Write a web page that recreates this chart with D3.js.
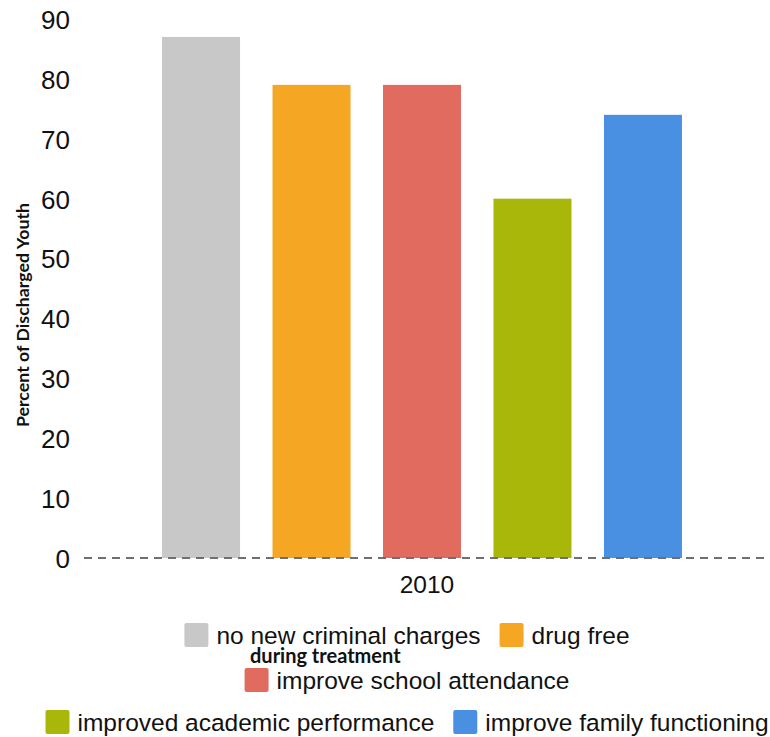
<!DOCTYPE html>
<html>
<head>
<meta charset="utf-8">
<script src="https://cdn.jsdelivr.net/npm/d3@7"></script>
<style>
  html, body { margin: 0; padding: 0; background: #fff; }
  svg { display: block; }
</style>
</head>
<body>
<svg id="chart" width="770" height="737"></svg>
<script>
// ---- data ----
const categories = ["no new criminal charges", "drug free", "improve school attendance", "improved academic performance", "improve family functioning"];
const values = [87, 79, 79, 60, 74];
const colors = ["#c8c8c8", "#f5a623", "#e06b5e", "#a9b70b", "#4a90e2"];
const groupLabel = "2010";
const yTicks = [0, 10, 20, 30, 40, 50, 60, 70, 80, 90];
const yTitle = "Percent of Discharged Youth";
const legendNote = "during treatment";
const legendRows = [[0, 1], [2], [3, 4]];

// ---- layout ----
const svg = d3.select("#chart");
const x = d3.scaleBand().domain(categories).range([151, 693]).paddingInner(0.294).paddingOuter(0.1);
const y = d3.scaleLinear().domain([0, 90]).range([558, 19]);

// bars
svg.append("g").selectAll("rect").data(categories).join("rect")
  .attr("x", d => x(d))
  .attr("y", (d, i) => y(values[i]))
  .attr("width", x.bandwidth())
  .attr("height", (d, i) => y(0) - y(values[i]))
  .attr("fill", (d, i) => colors[i]);

// baseline dashed
svg.append("line")
  .attr("x1", 82).attr("x2", 770)
  .attr("y1", y(0)).attr("y2", y(0))
  .attr("stroke", "#6f6f6f").attr("stroke-width", 2)
  .attr("stroke-dasharray", "8,6").attr("stroke-dashoffset", 12);

// y axis labels
const yAxis = d3.axisLeft(y).tickValues(yTicks).tickSize(0).tickPadding(0);
const gy = svg.append("g").attr("transform", "translate(70,0)").call(yAxis);
gy.select(".domain").remove();
gy.selectAll("text")
  .attr("font-family", "'Liberation Sans', Arial, sans-serif")
  .attr("font-size", 26).attr("fill", "#111").attr("dy", "0.36em");

// x group label
svg.append("text")
  .attr("x", 427).attr("y", 593)
  .attr("text-anchor", "middle")
  .attr("font-family", "'Liberation Sans', Arial, sans-serif")
  .attr("font-size", 24.5).attr("fill", "#111")
  .text(groupLabel);

// y title
svg.append("text")
  .attr("transform", "translate(29,315) rotate(-90)")
  .attr("text-anchor", "middle")
  .attr("font-family", "Lato, sans-serif").attr("font-weight", "bold")
  .attr("font-size", 17.8).attr("fill", "#111")
  .text(yTitle);

// legend
const legendCenter = 407;
const rowY = [635, 680, 722];
const sw = 24, swGap = 8, itemGap = 19;
const lg = svg.append("g");
legendRows.forEach((row, r) => {
  const g = lg.append("g");
  let cx = 0;
  row.forEach(i => {
    g.append("rect").attr("x", cx).attr("y", -sw / 2).attr("width", sw).attr("height", sw)
      .attr("rx", 2).attr("fill", colors[i]);
    const t = g.append("text").attr("x", cx + sw + swGap).attr("y", 0).attr("dy", "0.35em")
      .attr("font-family", "'Liberation Sans', Arial, sans-serif")
      .attr("font-size", 24.5).attr("fill", "#111").text(categories[i]);
    cx += sw + swGap + t.node().getComputedTextLength() + itemGap;
  });
  const w = cx - itemGap;
  g.attr("transform", `translate(${legendCenter - w / 2},${rowY[r]})`);
});

svg.append("text")
  .attr("x", 250).attr("y", 663)
  .attr("font-family", "Lato, sans-serif").attr("font-weight", "bold")
  .attr("font-size", 20).attr("fill", "#111")
  .text(legendNote);
</script>
</body>
</html>
